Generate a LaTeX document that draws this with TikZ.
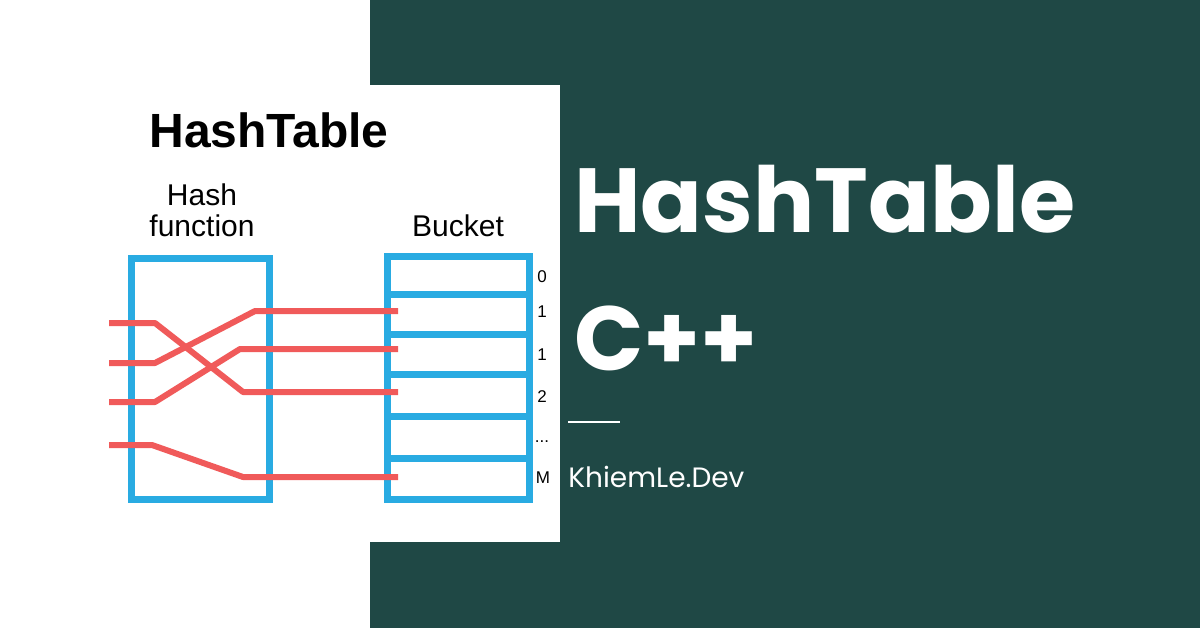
\documentclass[tikz,border=0pt]{standalone}
\usepackage{fontspec}
\setmainfont{Liberation Sans}
\newfontfamily\poppins{Poppins}
\usetikzlibrary{positioning}

\definecolor{hashblue}{RGB}{41,171,226}
\definecolor{hashred}{RGB}{240,90,90}
\definecolor{bgdark}{RGB}{31,72,69}

\begin{document}
\begin{tikzpicture}[
    x=0.5pt, y=-0.5pt,
    every node/.style = {inner sep=0pt},
    box/.style = {draw=hashblue, line width=3.5pt},
    wire/.style = {draw=hashred, line width=3pt, line join=round},
    head/.style = {font=\bfseries\fontsize{24}{28}\selectfont},
    lbl/.style = {font=\fontsize{15}{15.5}\selectfont, align=center},
    idx/.style = {font=\fontsize{8.5}{10}\selectfont},
    bigtitle/.style = {text=white, font=\poppins\bfseries\fontsize{45.5}{55}\selectfont},
    site/.style = {text=white, font=\poppins\fontsize{14}{17}\selectfont}
]

%% Background panels
\fill[white]  (0,0)   rectangle (1200,628);
\fill[bgdark] (370,0) rectangle (1200,628);
\fill[white]  (370,85) rectangle (560,542);
\useasboundingbox (0,0) rectangle (1200,628);

%% Left card texts
\node[head, anchor=base] (ltitle) at (269,147) {HashTable};
\node[lbl,  anchor=base] (hfun)   at (202,236) {Hash\\function};
\node[lbl,  anchor=base] (bucket) at (458,236) {Bucket};

%% Hash function box and bucket array
\draw[box] (131.5,258.5) rectangle (269.5,499.5);
\draw[box] (387.5,256.5) rectangle (529.5,499.5);
\foreach \yy in {294,334,374,416,458}
    \draw[box] (387.5,\yy) -- (529.5,\yy);

%% Bucket indices
\node[idx, anchor=base] (n0) at (542,282) {0};
\node[idx, anchor=base] (n1) at (542,317) {1};
\node[idx, anchor=base] (n2) at (542,360) {1};
\node[idx, anchor=base] (n3) at (542,402) {2};
\node[idx, anchor=base] (n4) at (542,442) {...};
\node[idx, anchor=base] (nM) at (543,483) {M};

%% Keys in, slots out
\coordinate (in1) at (109,323);
\coordinate (in2) at (109,363);
\coordinate (in3) at (109,402);
\coordinate (in4) at (109,445);
\coordinate (s1) at (398,311);
\coordinate (s2) at (398,349);
\coordinate (s3) at (398,392);
\coordinate (sM) at (398,477);

%% Red wires
\draw[wire] (in1) -- ++(46,0) -- ++(88,69)   -- (s3);
\draw[wire] (in2) -- ++(46,0) -- ++(100,-52) -- (s1);
\draw[wire] (in3) -- ++(46,0) -- ++(85,-53)  -- (s2);
\draw[wire] (in4) -- ++(43,0) -- ++(91,32)   -- (sM);

%% Right side titles
\node[bigtitle, anchor=base west] (title) at (574,232) {HashTable};
\node[bigtitle, anchor=base west] (lang)  at (574,370) {C++};
\coordinate (rl) at (568,422);
\draw[white, line width=1pt] (rl) -- ++(52,0);
\node[site, anchor=base west] (site) at (568,487) {KhiemLe.Dev};

\end{tikzpicture}
\end{document}
